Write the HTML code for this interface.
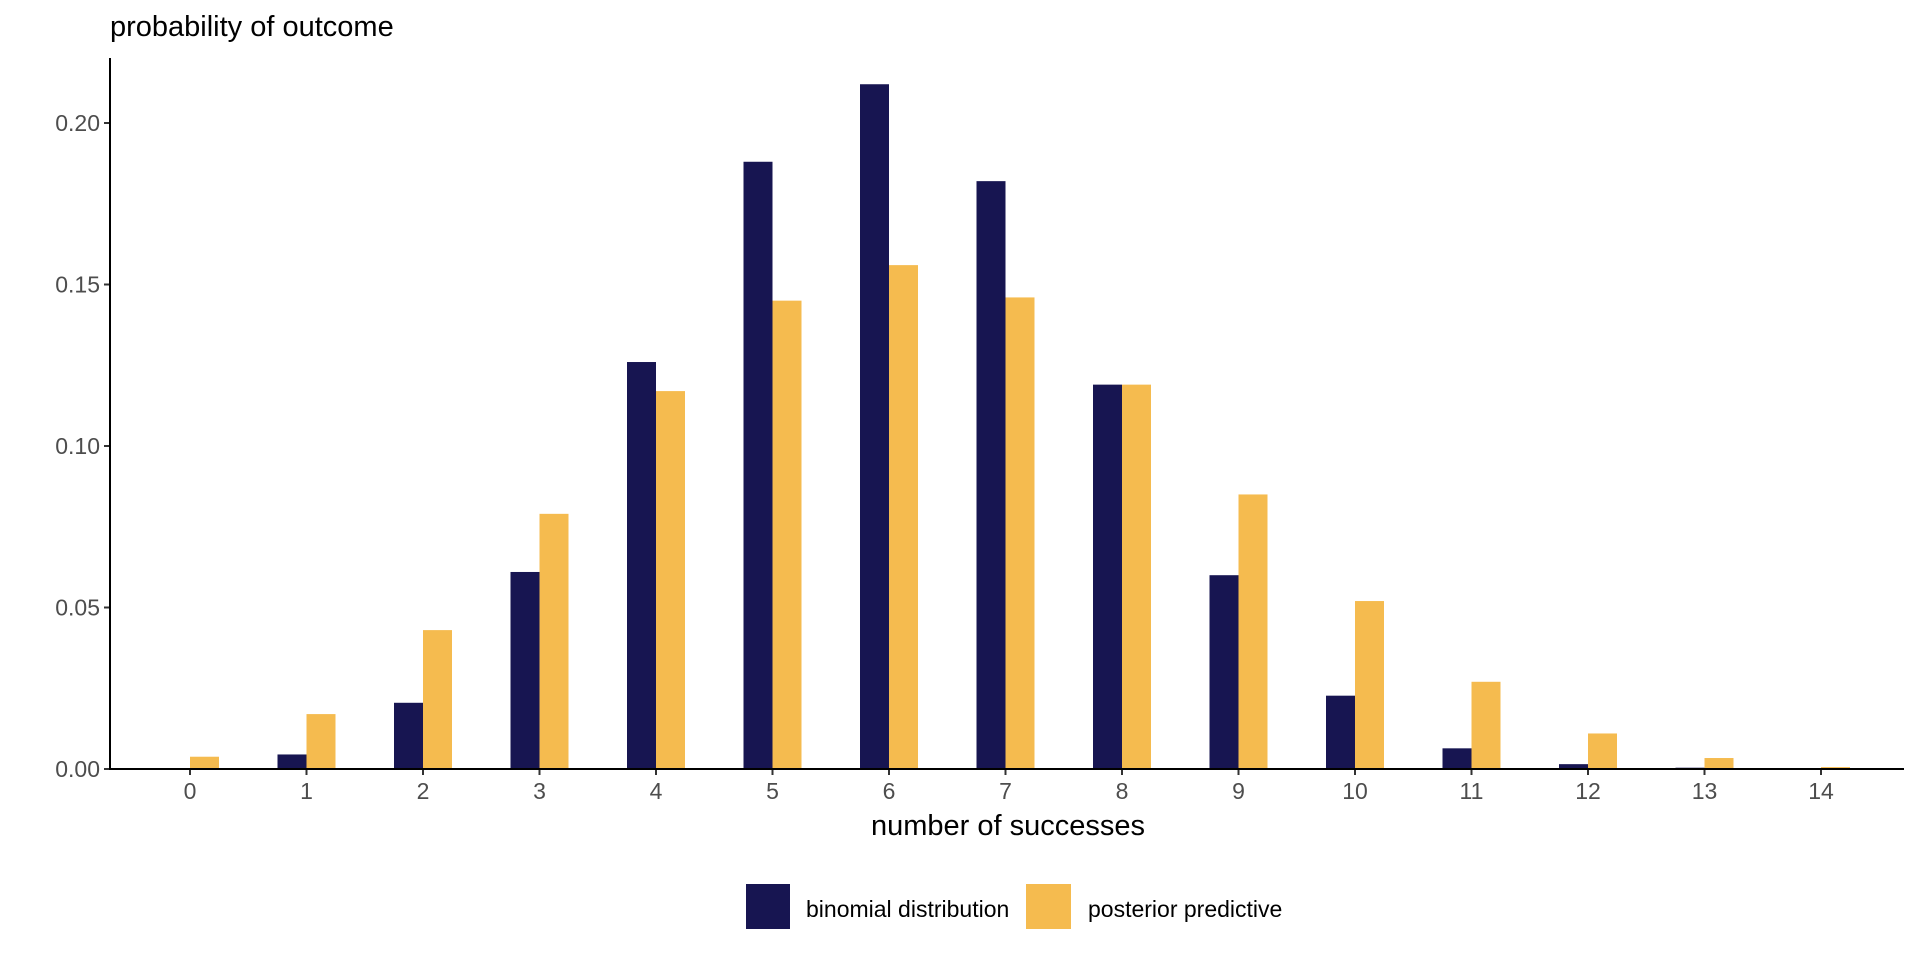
<!DOCTYPE html>
<html><head><style>
body{margin:0;background:#fff;}
svg{display:block;font-family:"Liberation Sans",sans-serif;}
</style></head><body>
<svg id="c" width="1920" height="960" xmlns="http://www.w3.org/2000/svg">
<text x="110" y="36" font-size="29" fill="#000">probability of outcome</text>
<text x="1008" y="835" font-size="29" fill="#000" text-anchor="middle">number of successes</text>
<rect x="746" y="884" width="44" height="45" fill="#171551"/>
<text x="806" y="917" font-size="23" fill="#000">binomial distribution</text>
<rect x="1026" y="884" width="45" height="45" fill="#f5bb4f"/>
<text x="1088" y="917" font-size="23" fill="#000">posterior predictive</text>
</svg>
<script>
var s=document.getElementById('c'),ns='http://www.w3.org/2000/svg';
function el(t,a,txt){var e=document.createElementNS(ns,t);for(var k in a)e.setAttribute(k,a[k]);if(txt!=null)e.textContent=txt;s.appendChild(e);return e;}
var b=[0,0.0045,0.0205,0.061,0.126,0.188,0.212,0.182,0.119,0.060,0.0227,0.0064,0.0015,0.0004,0];
var p=[0.0038,0.017,0.043,0.079,0.117,0.145,0.156,0.146,0.119,0.085,0.052,0.027,0.011,0.0034,0.0006];
var y0=769,k=3230,x0=190,dx=116.5,w=29;
for(var i=0;i<15;i++){var x=x0+i*dx;
 if(b[i]>0)el('rect',{x:x-w,y:y0-b[i]*k,width:w,height:b[i]*k,fill:'#171551'});
 if(p[i]>0)el('rect',{x:x,y:y0-p[i]*k,width:w,height:p[i]*k,fill:'#f5bb4f'});
 el('line',{x1:x,x2:x,y1:y0,y2:y0+6,stroke:'#333','stroke-width':2});
 el('text',{x:x,y:y0+30,'font-size':23,fill:'#4d4d4d','text-anchor':'middle'},i);
}
var yl=['0.00','0.05','0.10','0.15','0.20'];
for(var j=0;j<5;j++){var y=y0-j*0.05*k;
 el('line',{x1:104,x2:110,y1:y,y2:y,stroke:'#333','stroke-width':2});
 el('text',{x:100,y:y+8,'font-size':23,fill:'#4d4d4d','text-anchor':'end'},yl[j]);
}
el('line',{x1:110,x2:110,y1:58,y2:y0+1,stroke:'#000','stroke-width':2});
el('line',{x1:109,x2:1904,y1:y0,y2:y0,stroke:'#000','stroke-width':2});
</script>
</body></html>
